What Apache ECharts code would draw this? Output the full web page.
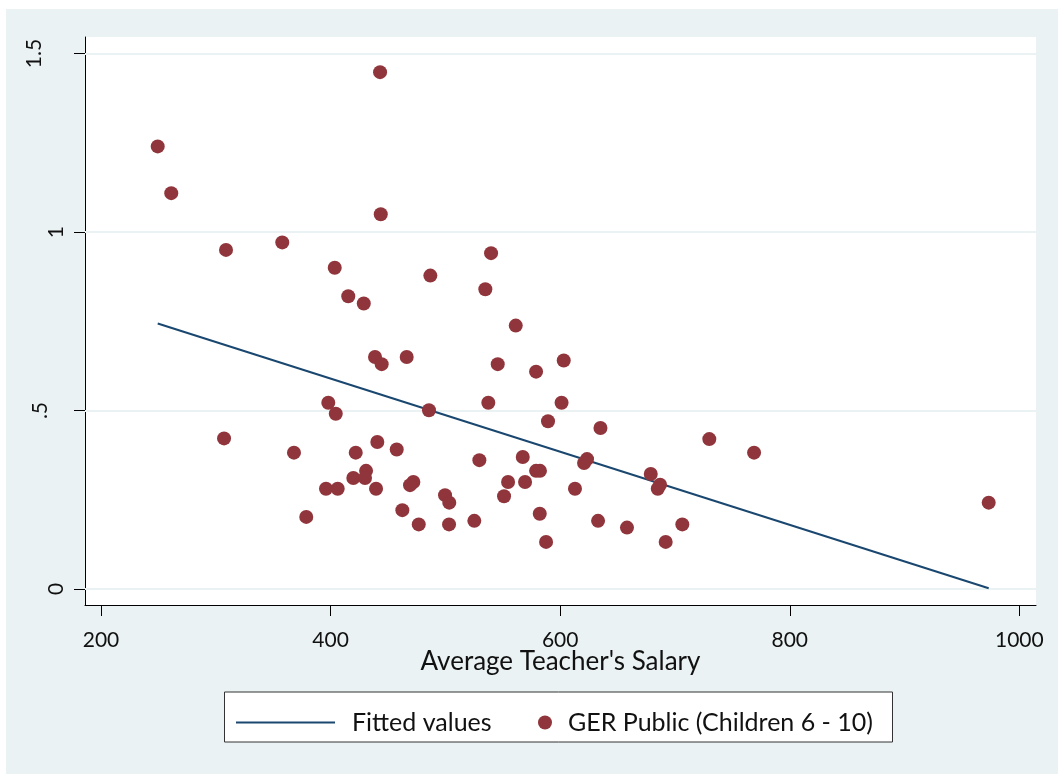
<!DOCTYPE html>
<html>
<head>
<meta charset="utf-8">
<script src="https://cdn.jsdelivr.net/npm/echarts@6/dist/echarts.min.js"></script>
<style>
  html, body { margin: 0; padding: 0; background: #ffffff; }
  #chart { position: absolute; left: 6px; top: 9px; width: 1052px; height: 765px; }
</style>
</head>
<body>
<div id="chart"></div>
<script>
// ---- data ----
const salary = [
  249.4, 261.2, 443.1, 308.9, 357.9, 443.7, 403.6, 486.9, 539.8, 534.8,
  415.4, 428.9, 561.3, 438.7, 466.3, 444.5, 545.6, 579.0, 603.1, 398.0,
  404.5, 485.7, 537.4, 601.2, 589.4, 635.1, 307.2, 440.7, 368.1, 421.9,
  457.6, 729.9, 768.9, 529.6, 567.4, 623.4, 620.8, 579.0, 582.4, 430.9,
  419.8, 430.0, 472.1, 469.2, 554.6, 569.4, 678.9, 687.0, 685.0, 612.9,
  396.0, 406.2, 439.6, 499.7, 503.4, 551.1, 973.3, 462.5, 582.2, 525.2,
  633.0, 706.4, 378.8, 476.8, 503.2, 658.2, 587.7, 691.9
];
const gerPublic = [
  1.240, 1.109, 1.448, 0.950, 0.971, 1.050, 0.900, 0.878, 0.941, 0.840,
  0.820, 0.800, 0.738, 0.650, 0.650, 0.630, 0.630, 0.609, 0.640, 0.522,
  0.491, 0.501, 0.522, 0.522, 0.470, 0.451, 0.422, 0.412, 0.382, 0.382,
  0.391, 0.420, 0.382, 0.361, 0.370, 0.364, 0.353, 0.331, 0.331, 0.331,
  0.311, 0.311, 0.300, 0.291, 0.300, 0.300, 0.322, 0.292, 0.281, 0.281,
  0.281, 0.281, 0.281, 0.263, 0.242, 0.260, 0.242, 0.221, 0.211, 0.191,
  0.191, 0.181, 0.202, 0.181, 0.181, 0.172, 0.132, 0.132
];
// fitted line end points
const fitX = [249.4, 973.3];
const fitY = [0.7438, 0.0020];

const xTicks = [200, 400, 600, 800, 1000];
const xTickLabels = ['200', '400', '600', '800', '1000'];
const yTicks = [0, 0.5, 1, 1.5];
const yTickLabels = ['0', '.5', '1', '1.5'];

const seriesNames = ['Fitted values', 'GER Public (Children 6 - 10)'];
const xTitle = "Average Teacher's Salary";

// ---- chart ----
const FONT = 'Lato';
const BG = '#EAF2F3';
const NAVY = '#1A476F';
const MAROON = '#90353B';

// extra gap (toward the left) for the wider rotated y labels, as in the reference
const yLabelStyleKey = { '0': 'a', '.5': 'b', '1': 'a', '1.5': 'c' };

const scatterData = salary.map((v, i) => [v, gerPublic[i]]);
const fitData = fitX.map((v, i) => [v, fitY[i]]);

const chart = echarts.init(document.getElementById('chart'), null, { renderer: 'canvas' });
chart.setOption({
  animation: false,
  backgroundColor: BG,
  textStyle: { fontFamily: FONT },
  grid: {
    left: 79, top: 28, right: 22, bottom: 169,
    show: true, backgroundColor: '#ffffff', borderWidth: 0
  },
  xAxis: {
    type: 'value',
    min: 186.06, max: 1014.5,
    name: xTitle,
    nameLocation: 'middle',
    nameGap: 44,
    nameMoveOverlap: false,
    nameTextStyle: { fontFamily: FONT, fontSize: 26, color: '#111' },
    axisLine: { show: true, onZero: false, lineStyle: { color: '#000', width: 1 } },
    axisTick: { show: true, length: 11, customValues: xTicks, lineStyle: { color: '#000', width: 1 } },
    axisLabel: {
      customValues: xTicks,
      formatter: v => xTickLabels[xTicks.indexOf(v)] ?? '',
      fontFamily: FONT, fontSize: 21, color: '#111', margin: 25
    },
    splitLine: { show: false }
  },
  yAxis: {
    type: 'value',
    min: -0.0448, max: 1.5465,
    axisLine: { show: true, onZero: false, lineStyle: { color: '#000', width: 1 } },
    axisTick: { show: true, length: 11, customValues: yTicks, lineStyle: { color: '#000', width: 1 } },
    axisLabel: {
      customValues: yTicks,
      formatter: v => {
        const t = yTickLabels[yTicks.indexOf(v)] ?? '';
        return '{' + (yLabelStyleKey[t] || 'a') + '|' + t + '}';
      },
      rotate: 90,
      fontFamily: FONT, fontSize: 21, color: '#111', margin: 18,
      rich: {
        a: { fontFamily: FONT, fontSize: 21, color: '#111', padding: [0, 0, 0, 0] },
        b: { fontFamily: FONT, fontSize: 21, color: '#111', padding: [0, 0, 16, 0] },
        c: { fontFamily: FONT, fontSize: 21, color: '#111', padding: [0, 0, 22, 0] }
      }
    },
    splitLine: { show: false }
  },
  legend: [
    {
      data: [{ name: seriesNames[0], icon: 'path://M0,0 L99,0 L99,2 L0,2 Z' }],
      left: 230, top: 701, padding: 0,
      itemWidth: 99, itemHeight: 14,
      textStyle: { fontFamily: FONT, fontSize: 25, color: '#111', padding: [0, 0, 0, 12] },
      selectedMode: false
    },
    {
      data: [{ name: seriesNames[1], icon: 'circle' }],
      left: 532, top: 701, padding: 0,
      itemWidth: 14, itemHeight: 14,
      textStyle: { fontFamily: FONT, fontSize: 25, color: '#111', padding: [0, 0, 0, 11] },
      selectedMode: false
    }
  ],
  graphic: [
    {
      type: 'rect', z: 0, silent: true,
      shape: { x: 218.5, y: 683, width: 668, height: 50 },
      style: { fill: '#ffffff', stroke: '#333333', lineWidth: 1 }
    }
  ],
  series: [
    {
      name: seriesNames[0],
      type: 'line',
      data: fitData,
      symbol: 'none',
      z: 2,
      lineStyle: { color: NAVY, width: 2 },
      itemStyle: { color: NAVY },
      silent: true,
      markLine: {
        z: 1,
        silent: true,
        symbol: ['none', 'none'],
        label: { show: false },
        lineStyle: { color: BG, width: 2, type: 'solid' },
        emphasis: { disabled: true },
        data: yTicks.map(v => ({ yAxis: v }))
      }
    },
    {
      name: seriesNames[1],
      type: 'scatter',
      data: scatterData,
      symbol: 'circle',
      symbolSize: 14,
      z: 3,
      itemStyle: { color: MAROON, opacity: 1 },
      silent: true
    }
  ]
});
</script>
</body>
</html>
